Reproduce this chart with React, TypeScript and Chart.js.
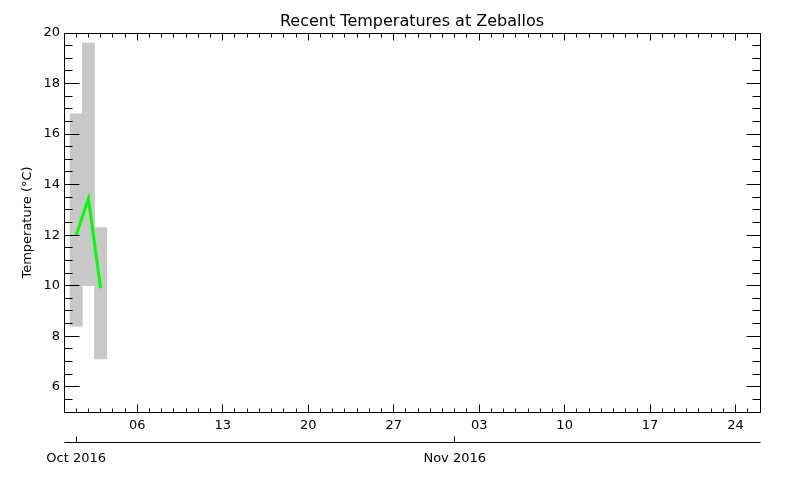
import React, { useEffect, useRef } from 'react';
import { Chart, registerables } from 'chart.js';

Chart.register(...registerables);

// ---- data ----
const AXIS_START = '2016-09-30';
const AXIS_END = '2016-11-26';
const dates = ['2016-10-01', '2016-10-02', '2016-10-03'];
const tempMin = [8.4, 10.0, 7.1];
const tempMax = [16.8, 19.6, 12.3];
const tempMean = [12.0, 13.45, 9.9];
const dayTickDates = ['2016-10-06', '2016-10-13', '2016-10-20', '2016-10-27', '2016-11-03', '2016-11-10', '2016-11-17', '2016-11-24'];
const dayTickLabels = ['06', '13', '20', '27', '03', '10', '17', '24'];
const monthTickDates = ['2016-10-01', '2016-11-01'];
const monthTickLabels = ['Oct 2016', 'Nov 2016'];
const yTickValues = [6, 8, 10, 12, 14, 16, 18, 20];
const Y_MIN = 5;
const Y_MAX = 20;
const TITLE = 'Recent Temperatures at Zeballos';
const Y_TITLE = 'Temperature (°C)';

const FONT = '"DejaVu Sans", sans-serif';

const toDay = (s: string) =>
  Math.round((Date.parse(s + 'T00:00:00Z') - Date.parse(AXIS_START + 'T00:00:00Z')) / 86400000);

const X_MAX = toDay(AXIS_END);
const dayTickDays = dayTickDates.map(toDay);
const monthTickDays = monthTickDates.map(toDay);

const framePlugin = {
  id: 'idlFrame',
  afterDraw(chart: any) {
    const { ctx, chartArea: a, scales } = chart;
    const xs = scales.x;
    const ys = scales.y;
    const x2 = scales.x2;
    const L = Math.floor(a.left) + 0.5;
    const R = Math.floor(a.right) + 0.5;
    const T = Math.floor(a.top) + 0.5;
    const B = Math.floor(a.bottom) + 0.5;
    ctx.save();
    ctx.strokeStyle = '#000';
    ctx.lineWidth = 1;
    ctx.beginPath();
    ctx.rect(L, T, R - L, B - T);
    // x ticks (inward)
    for (let d = 0; d <= X_MAX; d++) {
      const px = Math.floor(xs.getPixelForValue(d)) + 0.5;
      const major = dayTickDays.includes(d);
      ctx.moveTo(px, B);
      ctx.lineTo(px, B - (major ? 8 : 4));
      ctx.moveTo(px, T);
      ctx.lineTo(px, T + (major ? 7 : 4));
    }
    // y ticks (inward)
    for (let v = Y_MIN; v <= Y_MAX + 1e-9; v += 0.5) {
      const py = Math.floor(ys.getPixelForValue(v)) + 0.5;
      const major = yTickValues.includes(v);
      ctx.moveTo(L, py);
      ctx.lineTo(L + (major ? 15 : 8), py);
      ctx.moveTo(R, py);
      ctx.lineTo(R - (major ? 14 : 8), py);
    }
    // secondary month axis
    const my = Math.floor(x2.top) + 0.5;
    ctx.moveTo(L, my);
    ctx.lineTo(R, my);
    monthTickDays.forEach((d) => {
      const px = Math.floor(x2.getPixelForValue(d)) + 0.5;
      ctx.moveTo(px, my);
      ctx.lineTo(px, my - 6);
    });
    ctx.stroke();
    // title
    ctx.fillStyle = '#000';
    ctx.font = '16px ' + FONT;
    ctx.textAlign = 'center';
    ctx.textBaseline = 'alphabetic';
    ctx.fillText(TITLE, (a.left + a.right) / 2, 26);
    ctx.restore();
  },
};

export default function App() {
  const ref = useRef<HTMLCanvasElement>(null);
  useEffect(() => {
    if (!ref.current) return;
    Chart.defaults.font.family = FONT;
    Chart.defaults.color = '#000';
    const chart = new Chart(ref.current, {
      type: 'bar',
      data: {
        datasets: [
          {
            type: 'line',
            label: 'Mean',
            data: dates.map((d, i) => ({ x: toDay(d), y: tempMean[i] })),
            borderColor: '#00ff00',
            borderWidth: 3,
            pointRadius: 0,
            tension: 0,
            order: 0,
          } as any,
          {
            type: 'bar',
            label: 'Range',
            data: dates.map((d, i) => ({ x: toDay(d), y: [tempMin[i], tempMax[i]] })),
            backgroundColor: 'rgb(200,200,200)',
            borderWidth: 0,
            barPercentage: 1,
            categoryPercentage: 1,
            order: 1,
          } as any,
        ],
      },
      options: {
        animation: false,
        responsive: false,
        layout: { padding: { top: 33, right: 40, left: 0, bottom: 0 } },
        plugins: { legend: { display: false }, tooltip: { enabled: false }, title: { display: false } },
        scales: {
          x: {
            type: 'linear',
            position: 'bottom',
            min: 0,
            max: X_MAX,
            offset: false,
            weight: 0,
            grid: { display: false, drawTicks: false, offset: false },
            border: { display: false },
            afterBuildTicks: (s: any) => {
              s.ticks = dayTickDays.map((v) => ({ value: v }));
            },
            afterFit: (s: any) => {
              s.height = 30;
            },
            ticks: {
              autoSkip: false,
              maxRotation: 0,
              padding: 6,
              font: { size: 13 },
              callback: (v: any) => {
                const i = dayTickDays.indexOf(v);
                return i >= 0 ? dayTickLabels[i] : '';
              },
            },
          },
          x2: {
            type: 'linear',
            position: 'bottom',
            min: 0,
            max: X_MAX,
            offset: false,
            weight: 1,
            grid: { display: false, drawTicks: false, offset: false },
            border: { display: false },
            afterBuildTicks: (s: any) => {
              s.ticks = monthTickDays.map((v) => ({ value: v }));
            },
            afterFit: (s: any) => {
              s.height = 38;
            },
            ticks: {
              autoSkip: false,
              maxRotation: 0,
              padding: 9,
              font: { size: 13 },
              callback: (v: any) => {
                const i = monthTickDays.indexOf(v);
                return i >= 0 ? monthTickLabels[i] : '';
              },
            },
          },
          y: {
            type: 'linear',
            position: 'left',
            min: Y_MIN,
            max: Y_MAX,
            grid: { display: false, drawTicks: false },
            border: { display: false },
            afterBuildTicks: (s: any) => {
              s.ticks = yTickValues.map((v) => ({ value: v }));
            },
            afterFit: (s: any) => {
              s.width = 64;
            },
            ticks: { padding: 4, font: { size: 13 } },
            title: {
              display: true,
              text: Y_TITLE,
              font: { size: 13 },
              padding: { top: 20, bottom: 0 },
            },
          },
        },
      },
      plugins: [framePlugin],
    });
    return () => chart.destroy();
  }, []);
  return (
    <div style={{ position: 'absolute', left: 0, top: 0, width: 800, height: 480, background: '#fff' }}>
      <canvas ref={ref} width={800} height={480} />
    </div>
  );
}
